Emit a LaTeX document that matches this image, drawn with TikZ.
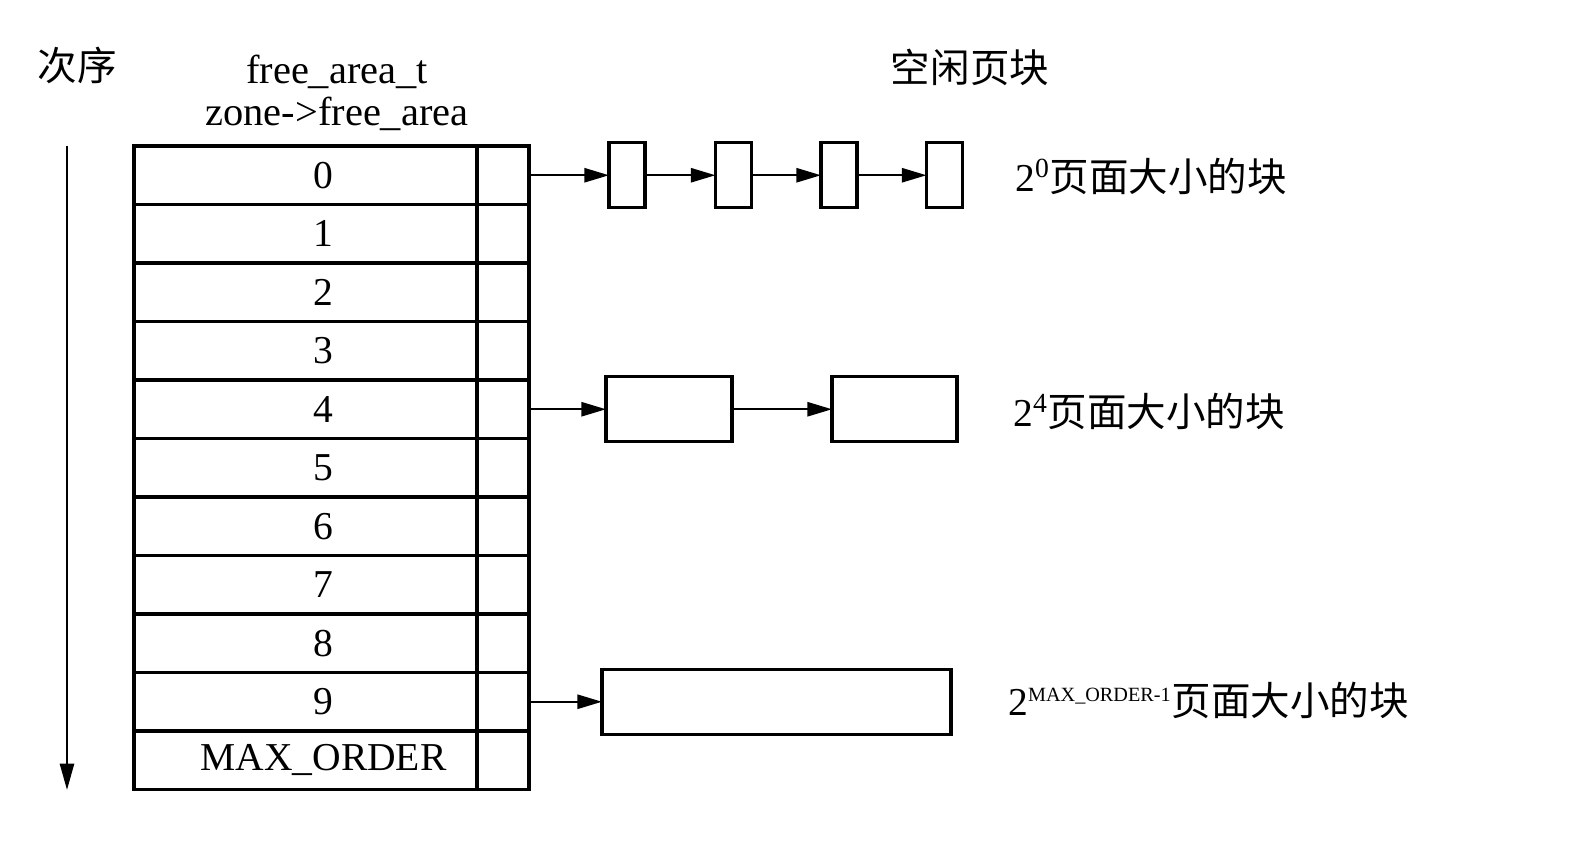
\documentclass[tikz,border=0pt]{standalone}
\usepackage{fontspec}
\setmainfont{Liberation Serif}
\newfontfamily\cjk{Noto Sans CJK SC}
\usetikzlibrary{arrows.meta,positioning}

\tikzset{
	cell/.style={draw, line width=1.8pt, inner sep=0pt, outer sep=0pt, minimum height=1.17cm, font=\fontsize{22.5}{24}\selectfont},
	block/.style={draw, line width=1.8pt, inner sep=0pt, outer sep=0pt, minimum height=1.3cm},
	link/.style={line width=1.4pt, -{Triangle[length=14pt,width=8pt]}},
	caption/.style={font=\cjk\fontsize{22.5}{24}\selectfont, anchor=west, inner sep=0pt}
}

\begin{document}
\begin{tikzpicture}[x=0.02cm, y=-0.02cm]
	\useasboundingbox (0,0) rectangle (1574,844);
	% table of free_area entries
	\foreach \lbl [count=\i from 0] in {0,1,2,3,4,5,6,7,8,9,MAX\_ORDER} {
		\node[cell, minimum width=6.86cm] (row\i) at (305.5, 146+58.5*\i+29.25) {\hspace*{0.72cm}\lbl};
		\node[cell, minimum width=1.04cm, right=0pt of row\i] (ptr\i) {};
	}
	\node[font=\fontsize{23}{24}\selectfont, align=center, inner sep=0pt] (head) at (337, 93) {free\_area\_t\\zone->free\_area};
	\node[font=\cjk\fontsize{22.5}{24}\selectfont, inner sep=0pt] (order) at (77, 65) {次序};
	\node[font=\cjk\fontsize{22.5}{24}\selectfont, inner sep=0pt] (freeblk) at (970, 67) {空闲页块};
	\coordinate (otop) at (67, 146);
	\coordinate (obot) at (67, 790);
	\draw[line width=1.4pt, -{Triangle[length=15pt,width=8pt]}] (otop) -- (obot);
	% order 0
	\foreach \x [count=\j] in {627, 733.5, 839, 944.5}
		\node[block, minimum width=0.72cm] (a\j) at (\x, 175.25) {};
	\draw[link] (ptr0.east) -- (a1.west);
	\draw[link] (a1) -- (a2);
	\draw[link] (a2) -- (a3);
	\draw[link] (a3) -- (a4);
	\node[caption] (lab0) at (1015, 176) {\fontspec{Liberation Serif}2\textsuperscript{0}\cjk 页面大小的块};
	% order 4
	\node[block, minimum width=2.52cm] (b1) at (669, 409.25) {};
	\node[block, minimum width=2.5cm] (b2) at (894.5, 409.25) {};
	\draw[link] (ptr4.east) -- (b1.west);
	\draw[link] (b1) -- (b2);
	\node[caption] (lab4) at (1013, 411) {\fontspec{Liberation Serif}2\textsuperscript{4}\cjk 页面大小的块};
	% order 9
	\node[block, minimum width=6.98cm] (c1) at (776.5, 701.75) {};
	\draw[link] (ptr9.east) -- (c1.west);
	\node[caption] (lab9) at (1008, 700) {\fontspec{Liberation Serif}2\textsuperscript{\fontsize{11.5}{12}\selectfont MAX\_ORDER-1}\cjk 页面大小的块};
\end{tikzpicture}
\end{document}
